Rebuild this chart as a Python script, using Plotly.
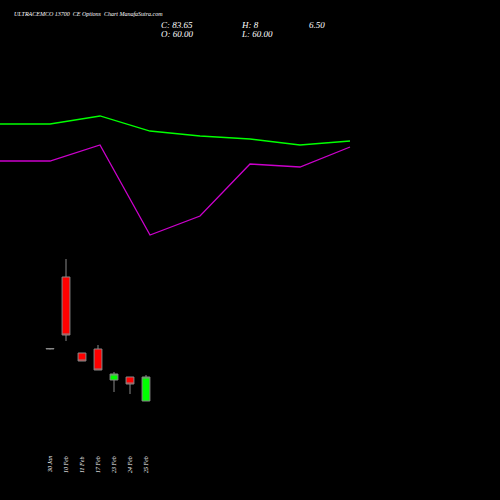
import plotly.graph_objects as go

# candle data (price units)
dates = ["30 Jan", "10 Feb", "11 Feb", "17 Feb", "23 Feb", "24 Feb", "25 Feb"]
opens = [60.4, 89.2, 58.8, 60.4, 48.0, 49.2, 39.6]
highs = [60.6, 96.4, 58.8, 62.0, 51.2, 49.2, 50.0]
lows = [60.2, 63.6, 55.6, 52.0, 43.2, 42.4, 39.6]
closes = [60.6, 66.0, 55.6, 52.0, 50.4, 46.4, 49.2]

# indicator lines
line_x = [0, 1, 2, 3, 4, 5, 6, 7]
green_line = [150.4, 150.4, 153.6, 147.6, 145.6, 144.4, 142.0, 143.6]
purple_line = [135.6, 135.6, 142.0, 106.0, 113.6, 134.4, 133.2, 141.2]

fig = go.Figure()
fig.add_trace(go.Candlestick(
    x=list(range(len(dates))), open=opens, high=highs, low=lows, close=closes,
    increasing=dict(line=dict(color="#888888", width=1), fillcolor="#00ff00"),
    decreasing=dict(line=dict(color="#888888", width=1), fillcolor="#ff0000"),
    whiskerwidth=0, showlegend=False))
fig.add_trace(go.Scatter(x=line_x, y=green_line, mode="lines", xaxis="x2",
                         line=dict(color="#00ff00", width=1.3), showlegend=False))
fig.add_trace(go.Scatter(x=line_x, y=purple_line, mode="lines", xaxis="x2",
                         line=dict(color="#cc00cc", width=1.3), showlegend=False))

font = dict(family="Liberation Serif", color="white")
ann = [dict(x=i, y=0.07, xref="x", yref="paper", text="<i>" + d + "</i>", textangle=-90,
            yanchor="middle", showarrow=False, font=dict(size=6, **font))
       for i, d in enumerate(dates)]
ann += [
    dict(x=0.024, y=0.972, text="<i>ULTRACEMCO 13700  CE Options  Chart ManafaSutra.com</i>", font=dict(size=6, **font)),
    dict(x=0.318, y=0.95, text="<i>C: 83.65</i>", font=dict(size=9, **font)),
    dict(x=0.318, y=0.932, text="<i>O: 60.00</i>", font=dict(size=9, **font)),
    dict(x=0.478, y=0.95, text="<i>H: 8</i>", font=dict(size=9, **font)),
    dict(x=0.478, y=0.932, text="<i>L: 60.00</i>", font=dict(size=9, **font)),
    dict(x=0.614, y=0.95, text="<i>6.50</i>", font=dict(size=9, **font)),
]
for a in ann[len(dates):]:
    a.update(xref="paper", yref="paper", showarrow=False, xanchor="left", yanchor="middle")

fig.update_layout(
    width=500, height=500, paper_bgcolor="black", plot_bgcolor="black",
    margin=dict(l=0, r=0, t=0, b=0),
    xaxis=dict(range=[-3.125, 28.125], visible=False, rangeslider=dict(visible=False)),
    xaxis2=dict(range=[0, 10], overlaying="x", visible=False),
    yaxis=dict(range=[0, 200], visible=False),
    annotations=ann,
)
fig.write_html("out.html", config={"displayModeBar": False},
               post_script="document.body.style.margin='0';document.body.style.background='black';")
